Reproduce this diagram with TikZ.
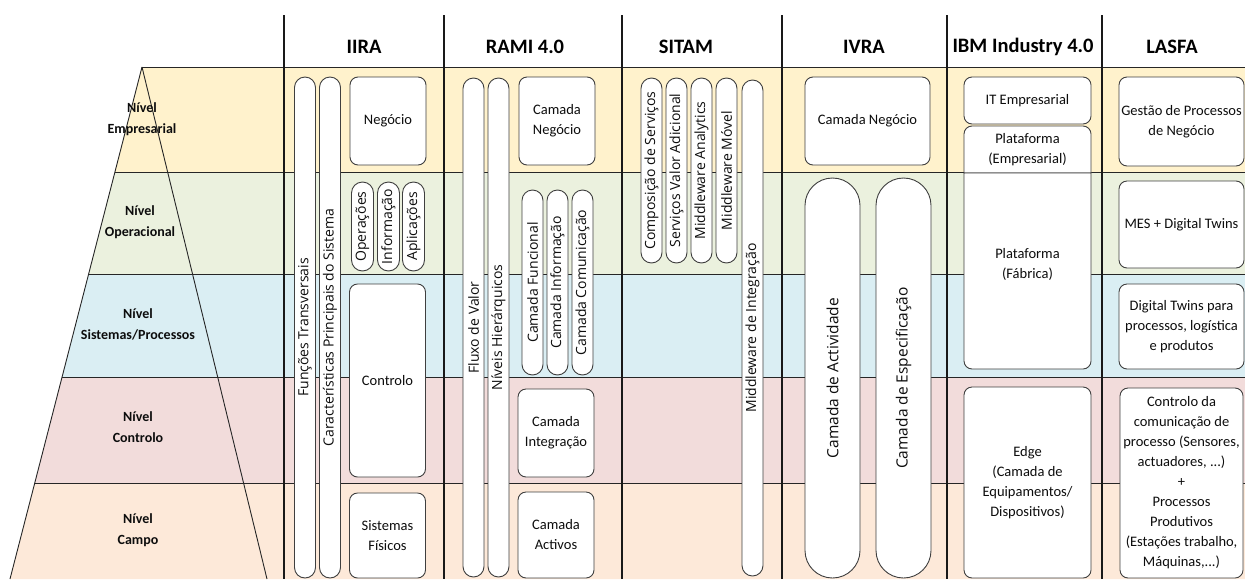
\documentclass[tikz,border=0pt]{standalone}
\usepackage{fontspec}
\setmainfont{Carlito}
\newfontfamily\pillfont{Open Sans}
\definecolor{bandA}{HTML}{FFF2CC}
\definecolor{bandB}{HTML}{EBF1DE}
\definecolor{bandC}{HTML}{DAEEF3}
\definecolor{bandD}{HTML}{F2DCDB}
\definecolor{bandE}{HTML}{FDE9D9}
\definecolor{boxgray}{HTML}{3F3F3F}
\definecolor{inkgray}{HTML}{0D0D0D}
\begin{document}
\begin{tikzpicture}[x=1pt,y=-1pt,
  hdr/.style={font=\bfseries\fontsize{20.5}{24}\selectfont, text=black},
  lvl/.style={font=\bfseries\fontsize{14}{21}\selectfont, align=center, text=inkgray},
  box/.style={draw=boxgray, line width=0.9pt, fill=white, rounded corners=8pt,
    align=center, inner sep=2pt, text=inkgray, font=\fontsize{14.5}{20}\selectfont},
  pill/.style={draw=boxgray, line width=0.9pt, fill=white, rotate=90, inner sep=0pt,
    text=inkgray, font=\pillfont\fontsize{14}{15}\selectfont},
  thinpill/.style={pill, minimum height=21pt, rounded corners=10.5pt},
  widepill/.style={pill, minimum height=55pt, rounded corners=27.5pt,
    font=\pillfont\fontsize{15.5}{17}\selectfont},
  bandline/.style={draw=black!85, line width=0.9pt},
  colline/.style={draw=black!90, line width=1.3pt}]
\useasboundingbox (0,0) rectangle (1245,579);

% pyramid bands, left edge x = 142 - 0.2578 (y - 67)
\fill[bandA] (142,67) -- (1245,67) -- (1245,172) -- (114.9,172) -- cycle;
\fill[bandB] (114.9,172) -- (1245,172) -- (1245,274) -- (88.6,274) -- cycle;
\fill[bandC] (88.6,274) -- (1245,274) -- (1245,377) -- (62.1,377) -- cycle;
\fill[bandD] (62.1,377) -- (1245,377) -- (1245,483) -- (34.8,483) -- cycle;
\fill[bandE] (34.8,483) -- (1245,483) -- (1245,579) -- (10,579) -- cycle;

% band boundaries and pyramid edges
\draw[bandline] (142,67) -- (1245,67);
\draw[bandline] (114.9,172) -- (1245,172);
\draw[bandline] (88.6,274) -- (1245,274);
\draw[bandline] (62.1,377) -- (1245,377);
\draw[bandline] (34.8,483) -- (1245,483);
\draw[bandline] (142,67) -- (10,579);
\draw[bandline] (142,67) -- (267,579);

% column separators
\foreach \cx in {284,444,622,782,947,1102}
  \draw[colline] (\cx,15) -- (\cx,579);

% column headers
\node[hdr] (hIIRA) at (364,47) {IIRA};
\node[hdr] (hRAMI) at (525,47) {RAMI 4.0};
\node[hdr] (hSITAM) at (686,47) {SITAM};
\node[hdr] (hIVRA) at (864,47) {IVRA};
\node[hdr] (hIBM) at (1023,47) {IBM Industry 4.0};
\node[hdr] (hLASFA) at (1172,47) {LASFA};

% pyramid level labels
\node[lvl] (lEmp) at (142,119) {Nível\\Empresarial};
\node[lvl] (lOp) at (140,222) {Nível\\Operacional};
\node[lvl] (lSis) at (138,324) {Nível\\Sistemas/Processos};
\node[lvl] (lCtl) at (138,427) {Nível\\Controlo};
\node[lvl] (lCam) at (138,530) {Nível\\Campo};

% IIRA
\node[thinpill, minimum width=501pt] (iFun) at (305,327.5) {Funções Transversais};
\node[thinpill, minimum width=501pt] (iCar) at (330,327.5) {Características Principais do Sistema};
\node[box, minimum width=76pt, minimum height=88pt] (iNeg) at (388,121) {Negócio};
\node[thinpill, minimum width=89pt, minimum height=22pt, rounded corners=11pt] (iOpe) at (362.5,226.5) {Operações};
\node[thinpill, minimum width=89pt, minimum height=22pt, rounded corners=11pt] (iInf) at (388.5,226.5) {Informação};
\node[thinpill, minimum width=89pt, minimum height=22pt, rounded corners=11pt] (iApl) at (413.5,226.5) {Aplicações};
\node[box, minimum width=76pt, minimum height=193pt] (iCtl) at (387.5,380.5) {Controlo};
\node[box, minimum width=76pt, minimum height=85pt] (iSis) at (387.5,535.5) {Sistemas\\Físicos};

% RAMI 4.0
\node[thinpill, minimum width=499pt] (rFlu) at (473.5,327.5) {Fluxo de Valor};
\node[thinpill, minimum width=499pt] (rNiv) at (498.5,327.5) {Níveis Hierárquicos};
\node[box, minimum width=76pt, minimum height=88pt] (rNeg) at (557,121) {Camada\\Negócio};
\node[thinpill, minimum width=185pt] (rFun) at (532.5,282.5) {Camada Funcional};
\node[thinpill, minimum width=185pt] (rInf) at (557.5,282.5) {Camada Informação};
\node[thinpill, minimum width=185pt] (rCom) at (582.5,282.5) {Camada Comunicação};
\node[box, minimum width=76pt, minimum height=88pt] (rInt) at (556,433) {Camada\\Integração};
\node[box, minimum width=76pt, minimum height=86pt] (rAct) at (556,535) {Camada\\Activos};

% SITAM
\node[thinpill, minimum width=185pt] (sCom) at (651.5,170.5) {Composição de Serviços};
\node[thinpill, minimum width=185pt] (sSer) at (676.5,170.5) {Serviços Valor Adicional};
\node[thinpill, minimum width=185pt] (sAna) at (701.5,170.5) {Middleware Analytics};
\node[thinpill, minimum width=185pt] (sMov) at (726.5,170.5) {Middleware Móvel};
\node[thinpill, minimum width=496pt] (sInt) at (752.5,328) {Middleware de Integração};

% IVRA
\node[box, minimum width=125pt, minimum height=88pt] (vNeg) at (867.5,121) {Camada Negócio};
\node[widepill, minimum width=400pt] (vAct) at (832.5,378) {Camada de Actividade};
\node[widepill, minimum width=400pt] (vEsp) at (903.5,378) {Camada de Especificação};

% IBM Industry 4.0
\node[box, minimum width=127pt, minimum height=47pt] (bIT) at (1027.5,100.5) {IT Empresarial};
\path[draw=boxgray, line width=0.9pt, fill=white]
  (964,173) [rounded corners=8pt] -- (964,126) -- (1091,126) [sharp corners] -- (1091,173) -- cycle;
\path[draw=boxgray, line width=0.9pt, fill=white]
  (1091,173) [rounded corners=8pt] -- (1091,369) -- (964,369) [sharp corners] -- (964,173) -- cycle;
\node[align=center, text=inkgray, font=\fontsize{14.5}{20}\selectfont] (bPE) at (1027.5,150) {Plataforma\\(Empresarial)};
\node[align=center, text=inkgray, font=\fontsize{14.5}{20}\selectfont] (bPF) at (1027.5,264) {Plataforma\\(Fábrica)};
\node[box, minimum width=127pt, minimum height=191pt] (bEdge) at (1027.5,482.5) {Edge\\(Camada de\\Equipamentos/\\Dispositivos)};

% LASFA
\node[box, minimum width=125pt, minimum height=89pt] (aGes) at (1181.5,121.5) {Gestão de Processos\\de Negócio};
\node[box, minimum width=125pt, minimum height=87pt] (aMes) at (1181.5,224.5) {MES + Digital Twins};
\node[box, minimum width=125pt, minimum height=85pt] (aDig) at (1181.5,326.5) {Digital Twins para\\processos, logística\\e produtos};
\node[box, minimum width=123pt, minimum height=190pt] (aCtl) at (1181.5,483) {Controlo da\\comunicação de\\processo (Sensores,\\actuadores, ...)\\+\\Processos\\Produtivos\\(Estações trabalho,\\Máquinas,...)};
\end{tikzpicture}
\end{document}
